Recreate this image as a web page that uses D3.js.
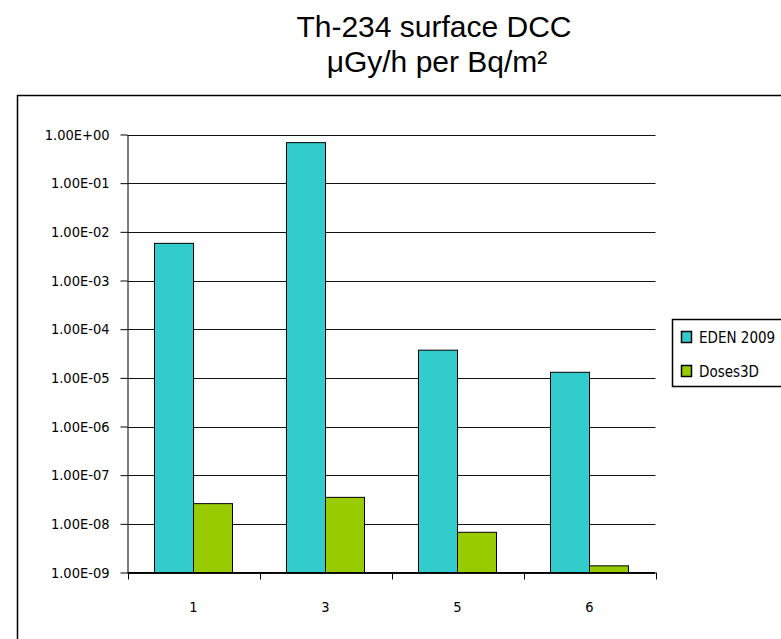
<!DOCTYPE html>
<html>
<head>
<meta charset="utf-8">
<script src="https://cdn.jsdelivr.net/npm/d3@7"></script>
<style>
    body { margin: 0; background: #fff; }
    svg { display: block; }
</style>
</head>
<body>
<div id="chart"></div>
<script>
// Chart data
const categories = ['1', '3', '5', '6'];
const seriesNames = ['EDEN 2009', 'Doses3D'];
const edenValues = [5.8e-3, 0.68, 3.7e-5, 1.3e-5];
const doses3dValues = [2.6e-8, 3.5e-8, 6.7e-9, 1.37e-9];
const yTickValues = [1, 1e-1, 1e-2, 1e-3, 1e-4, 1e-5, 1e-6, 1e-7, 1e-8, 1e-9];
const yTickLabels = ['1.00E+00', '1.00E-01', '1.00E-02', '1.00E-03', '1.00E-04',
    '1.00E-05', '1.00E-06', '1.00E-07', '1.00E-08', '1.00E-09'];
const colors = ['#33CCCC', '#99CC00'];

const width = 781;
const height = 639;
const plot = { left: 127.5, right: 655.5, top: 134.5, bottom: 572.5 };

const svg = d3.select('#chart').append('svg')
    .attr('width', width)
    .attr('height', height);

// Outer chart frame (runs off the right and bottom edges)
svg.append('rect')
    .attr('x', 17.5).attr('y', 95.5)
    .attr('width', 800).attr('height', 600)
    .attr('fill', 'none').attr('stroke', '#000').attr('stroke-width', 1.5);

// Title
const titleX = 434;
const title = svg.append('text')
    .attr('text-anchor', 'middle')
    .style('font-family', 'Liberation Sans, Arial, sans-serif')
    .style('font-size', '30px');
title.append('tspan').attr('x', titleX).attr('y', 37).text('Th-234 surface DCC');
title.append('tspan').attr('x', titleX + 3).attr('y', 72).text('μGy/h per Bq/m²');

// Scales
const x0 = d3.scaleBand()
    .domain(categories)
    .range([plot.left, plot.right])
    .paddingInner(0)
    .paddingOuter(0);

const groupPad = 27;
const x1 = d3.scaleBand()
    .domain(seriesNames)
    .range([groupPad, x0.bandwidth() - groupPad]);

const y = d3.scaleLog()
    .domain([1e-9, 1])
    .range([plot.bottom, plot.top]);

const labelFont = 'DejaVu Sans Condensed, Tahoma, sans-serif';
const labelSize = '14.5px';

// Gridlines
svg.append('g')
    .selectAll('line')
    .data(yTickValues)
    .enter().append('line')
    .attr('x1', plot.left).attr('x2', plot.right)
    .attr('y1', d => Math.round(y(d)) + 0.5)
    .attr('y2', d => Math.round(y(d)) + 0.5)
    .attr('stroke', '#111').attr('stroke-width', 1);

// Bars
const groups = svg.append('g')
    .selectAll('g')
    .data(categories)
    .enter().append('g')
    .attr('transform', d => `translate(${x0(d)},0)`);

groups.selectAll('rect')
    .data((d, i) => [
        { key: seriesNames[0], value: edenValues[i] },
        { key: seriesNames[1], value: doses3dValues[i] }
    ])
    .enter().append('rect')
    .attr('x', d => x1(d.key))
    .attr('y', d => y(d.value))
    .attr('width', x1.bandwidth())
    .attr('height', d => plot.bottom - y(d.value))
    .attr('fill', (d, i) => colors[i])
    .attr('stroke', '#000').attr('stroke-width', 1);

// Y axis
const yAxis = d3.axisLeft(y)
    .tickValues(yTickValues)
    .tickFormat((d, i) => yTickLabels[i])
    .tickSizeInner(7)
    .tickSizeOuter(0)
    .tickPadding(11);

const yG = svg.append('g')
    .attr('transform', `translate(${plot.left},0)`)
    .call(yAxis);
yG.selectAll('text')
    .style('font-family', labelFont)
    .style('font-size', labelSize)
    .attr('fill', '#000');

// X axis
const xAxis = d3.axisBottom(x0)
    .tickSize(0)
    .tickPadding(29);

const xG = svg.append('g')
    .attr('transform', `translate(0,${plot.bottom})`)
    .call(xAxis);
xG.select('.domain').remove();
xG.selectAll('text')
    .style('font-family', labelFont)
    .style('font-size', labelSize)
    .attr('fill', '#000');

// Category boundary tick marks
const boundaries = categories.map(c => x0(c)).concat([plot.right]);
svg.append('g')
    .selectAll('line')
    .data(boundaries)
    .enter().append('line')
    .attr('x1', d => Math.round(d) + 0.5).attr('x2', d => Math.round(d) + 0.5)
    .attr('y1', plot.bottom).attr('y2', plot.bottom + 7)
    .attr('stroke', '#000');

svg.append('line')
    .attr('x1', plot.left).attr('x2', plot.right)
    .attr('y1', plot.bottom).attr('y2', plot.bottom)
    .attr('stroke', '#000');

// Legend
const legend = svg.append('g');
legend.append('rect')
    .attr('x', 672.5).attr('y', 319.5)
    .attr('width', 200).attr('height', 67)
    .attr('fill', '#fff').attr('stroke', '#000').attr('stroke-width', 1.5);

const legendItems = legend.selectAll('g.item')
    .data(seriesNames)
    .enter().append('g')
    .attr('class', 'item')
    .attr('transform', (d, i) => `translate(681,${331 + i * 34})`);

legendItems.append('rect')
    .attr('x', 0.5).attr('y', 0.5)
    .attr('width', 10).attr('height', 11)
    .attr('fill', (d, i) => colors[i])
    .attr('stroke', '#000').attr('stroke-width', 1.5);

legendItems.append('text')
    .attr('x', 18).attr('y', 12)
    .style('font-family', labelFont)
    .style('font-size', '15px')
    .text(d => d);
</script>
</body>
</html>
